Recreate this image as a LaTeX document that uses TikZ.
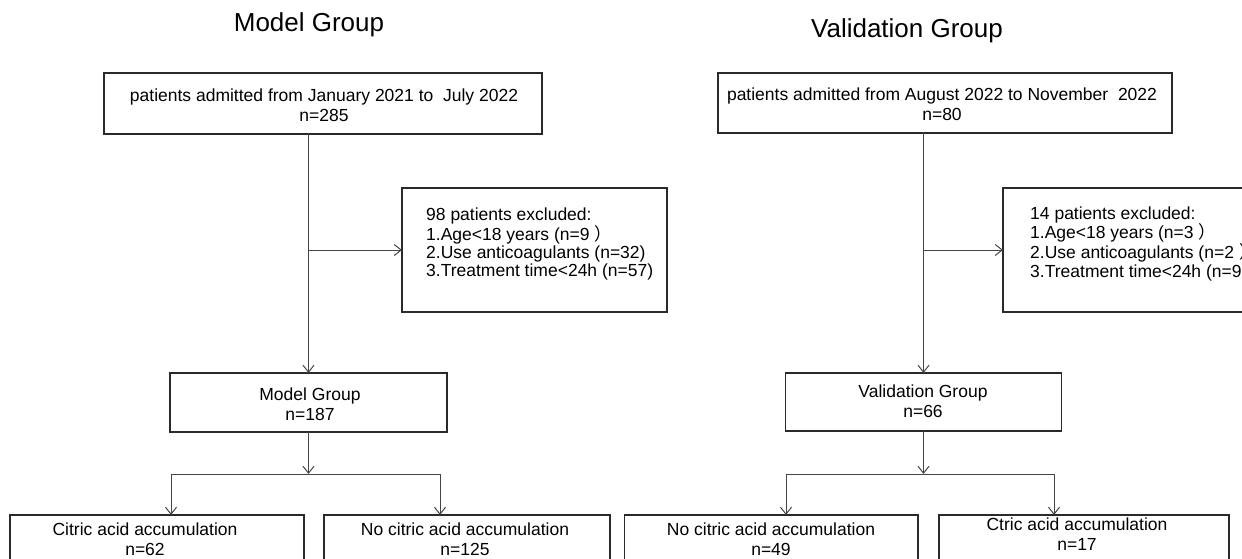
\documentclass[tikz,border=0pt]{standalone}
\usepackage{fontspec}
\setmainfont{Liberation Sans}
\newfontfamily\cjk{Noto Sans CJK SC}
\usetikzlibrary{arrows.meta}
\definecolor{boxc}{HTML}{2A2A2A}
\definecolor{linec}{HTML}{454545}
\newcommand{\fwp}{\hspace{0.3em}{\cjk ）}}
\begin{document}
\begin{tikzpicture}[x=1pt,y=-1pt,
 box/.style={draw=boxc,line width=1.5pt,rectangle,inner sep=0pt,outer sep=0pt},
 txt/.style={inner sep=0pt,align=center,font=\fontsize{17.5}{19.5}\selectfont,text=black},
 ltxt/.style={inner sep=0pt,align=left,font=\fontsize{17.5}{18}\selectfont,text=black},
 ttl/.style={inner sep=0pt,font=\fontsize{26}{30}\selectfont,text=black},
 conn/.style={draw=linec,line width=1pt},
 arr/.style={conn,-{Straight Barb[length=7pt,width=11pt]}}]
\useasboundingbox (0,0) rectangle (1242,559);
\clip (0,0) rectangle (1242,559);
\fill[white] (0,0) rectangle (1242,559);

% ---------- Model group ----------
\node[ttl,anchor=base] (t1) at (309,32) {Model Group};
\node[box,minimum width=438pt,minimum height=61pt] (tl) at (323,103.5) {};
\node[txt] (tlt) at (324,105) {patients admitted from January 2021 to \ July 2022\\n=285};

\node[box,minimum width=265pt,minimum height=124pt] (exL) at (534.5,250) {};
\node[ltxt,anchor=west] (exLt) at (426,244) {98 patients excluded:\\1.Age<18 years (n=9\fwp\\2.Use anticoagulants (n=32)\\3.Treatment time<24h (n=57)};

\node[box,minimum width=277pt,minimum height=59pt] (mg) at (308.5,402.5) {};
\node[txt] (mgt) at (310,404) {Model Group\\n=187};

\node[box,minimum width=294pt,minimum height=60pt] (b1) at (157,545) {};
\node[txt] (b1t) at (145,539) {Citric acid accumulation\\n=62};
\node[box,minimum width=286pt,minimum height=60pt] (b2) at (467,545) {};
\node[txt] (b2t) at (465,539) {No citric acid accumulation\\n=125};

\coordinate (jL) at (mg.north |- exL.west);
\coordinate (kL) at (308.5,474);
\coordinate (kL1) at (171,474);
\coordinate (kL2) at (440,474);

\draw[conn] (mg.north |- tl.south) -- (jL);
\draw[arr] (jL) -- (mg.north);
\draw[arr] (jL) -- (exL.west);
\draw[arr] (mg.south) -- (kL);
\draw[conn] (kL1) -- (kL2);
\draw[arr] (kL1) -- (kL1 |- b1.north);
\draw[arr] (kL2) -- (kL2 |- b2.north);

% ---------- Validation group ----------
\node[ttl,anchor=base] (t2) at (907,38) {Validation Group};
\node[box,minimum width=454pt,minimum height=60pt] (tr) at (945,103) {};
\node[txt] (trt) at (942,104) {patients admitted from August 2022 to November \ 2022\\n=80};

\node[box,minimum width=265pt,minimum height=124pt] (exR) at (1135.5,250) {};
\node[ltxt,anchor=west] (exRt) at (1030,244) {14 patients excluded:\\1.Age<18 years (n=3\fwp\\2.Use anticoagulants (n=2\fwp\\3.Treatment time<24h (n=9\fwp};

\node[box,minimum width=276pt,minimum height=58pt] (vg) at (923.5,402) {};
\node[txt] (vgt) at (923,401) {Validation Group\\n=66};

\node[box,minimum width=293.5pt,minimum height=60pt] (b3) at (771,545) {};
\node[txt] (b3t) at (771,539) {No citric acid accumulation\\n=49};
\node[box,minimum width=290pt,minimum height=60pt] (b4) at (1084,545) {};
\node[txt] (b4t) at (1077,534) {Ctric acid accumulation\\n=17};

\coordinate (jR) at (vg.north |- exR.west);
\coordinate (kR) at (923.5,474);
\coordinate (kR1) at (786,474);
\coordinate (kR2) at (1054,474);

\draw[conn] (vg.north |- tr.south) -- (jR);
\draw[arr] (jR) -- (vg.north);
\draw[arr] (jR) -- (exR.west);
\draw[arr] (vg.south) -- (kR);
\draw[conn] (kR1) -- (kR2);
\draw[arr] (kR1) -- (kR1 |- b3.north);
\draw[arr] (kR2) -- (kR2 |- b4.north);
\end{tikzpicture}
\end{document}
